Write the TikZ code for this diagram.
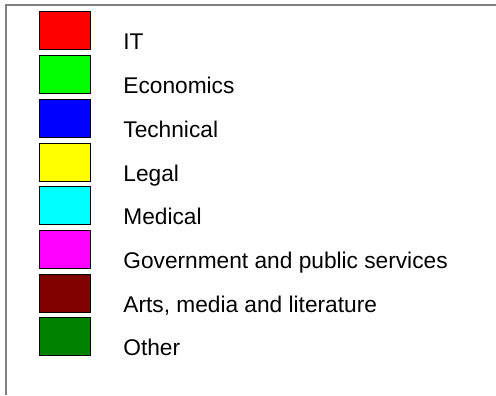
\documentclass[tikz,border=0pt]{standalone}
\usepackage{fontspec}
\setmainfont{Liberation Sans}
\usetikzlibrary{positioning}

\definecolor{catit}{HTML}{FF0000}
\definecolor{cateco}{HTML}{00FF00}
\definecolor{cattech}{HTML}{0000FF}
\definecolor{catlegal}{HTML}{FFFF00}
\definecolor{catmed}{HTML}{00FFFF}
\definecolor{catgov}{HTML}{FF00FF}
\definecolor{catarts}{HTML}{800000}
\definecolor{catother}{HTML}{008000}

\begin{document}
\begin{tikzpicture}[x=0.5pt,y=-0.5pt,
      swatch/.style={draw=black,line width=0.5pt,minimum width=25.5pt,minimum height=19pt,inner sep=0pt},
      entry/.style={anchor=base west,inner sep=0pt,font=\fontsize{11.35}{13}\selectfont}
      ]
      \useasboundingbox (0,0) rectangle (496,395);
      % frame
      \draw[gray,line width=1pt] (5.5,395) -- (5.5,5.5) -- (496,5.5);

      % legend entries
      \foreach \col/\txt [count=\i from 0] in {catit/IT, cateco/Economics, cattech/Technical, catlegal/Legal, catmed/Medical, catgov/Government and public services, catarts/{Arts, media and literature}, catother/Other}{
        \node[swatch,fill=\col] (sw\i) at (64.5,{31+43.7*\i}) {};
        \node[entry] (lab\i) at (123,{50+43.7*\i}) {\txt};
      }
    \end{tikzpicture}
\end{document}
